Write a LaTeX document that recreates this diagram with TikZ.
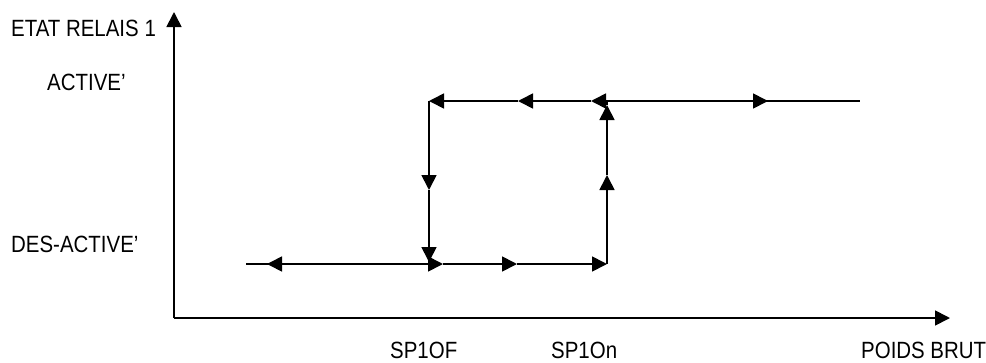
\documentclass[tikz,border=0pt]{standalone}
\usepackage{fontspec}
\setmainfont[FakeStretch=0.87]{Liberation Sans}
\usetikzlibrary{arrows.meta}
\begin{document}
\begin{tikzpicture}[x=1pt,y=-1pt,
  ln/.style={line width=1.7pt,black},
  ar/.style={ln,-{Triangle[length=15pt,width=15pt]}},
  lbl/.style={anchor=base west,inner sep=0pt,font=\fontsize{23.5pt}{27pt}\selectfont}]
\useasboundingbox (0,0) rectangle (986,362);
% axes
\coordinate (O) at (174,318);
\coordinate (ytip) at (174,12);
\coordinate (xtip) at (950,318);
\draw[ar] (O) -- (ytip);
\draw[ar] (O) -- (xtip);
% corners
\coordinate (A) at (429,101);
\coordinate (B) at (607,101);
\coordinate (C) at (607,264);
\coordinate (D) at (429,264);
\coordinate (E) at (246,264);
\coordinate (F) at (860,101);
% arrow tips
\coordinate (t2) at (518,101);
\coordinate (t3) at (591,101);
\coordinate (t4) at (768,101);
\coordinate (l1) at (429,190);
\coordinate (l2) at (429,262);
\coordinate (b0) at (267,264);
\coordinate (b1) at (443,264);
\coordinate (b2) at (517,264);
\coordinate (r1) at (607,175);
\coordinate (r2) at (607,105);
% top line
\draw[ln] (B) -- (F);
\draw[ar] (B) -- (t4);
\draw[ar] (B) -- (t3);
\draw[ar] (t3) -- (t2);
\draw[ar] (t2) -- (A);
% left vertical
\draw[ar] (A) -- (l1);
\draw[ar] (l1) -- (l2);
\draw[ln] (l2) -- (D);
% bottom line
\draw[ln] (E) -- (D);
\draw[ar] (D) -- (b0);
\draw[ar] (D) -- (b1);
\draw[ar] (b1) -- (b2);
\draw[ar] (b2) -- (C);
% right vertical
\draw[ar] (C) -- (r1);
\draw[ar] (r1) -- (r2);
\draw[ln] (r2) -- (B);
% labels
\node[lbl] (ylab) at (11,36) {ETAT RELAIS 1};
\node[lbl] (act) at (47,90) {ACTIVE’};
\node[lbl] (des) at (11,252) {DES-ACTIVE’};
\node[lbl] (sp1of) at (390,358) {SP1OF};
\node[lbl] (sp1on) at (551,358) {SP1On};
\node[lbl] (xlab) at (861,358) {POIDS BRUT};
\end{tikzpicture}
\end{document}
